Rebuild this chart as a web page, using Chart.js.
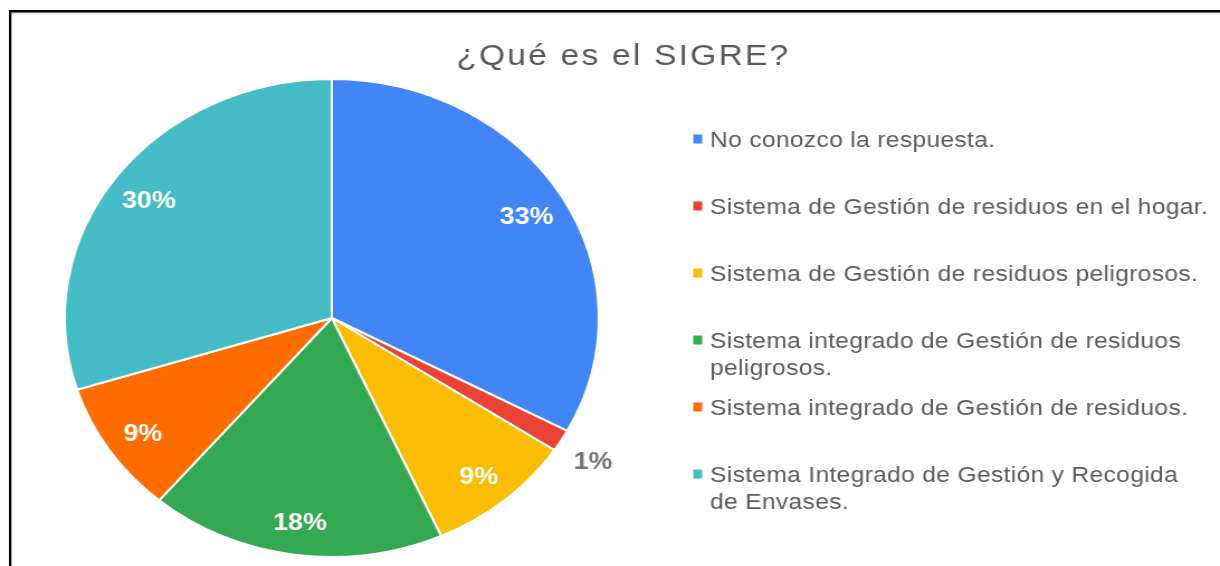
<!DOCTYPE html>
<html>
<head>
<meta charset="utf-8">
<script src="https://cdn.jsdelivr.net/npm/chart.js@4/dist/chart.umd.min.js"></script>
<style>
  html, body { margin: 0; padding: 0; background: #ffffff; overflow: hidden; }
  #wrap { position: absolute; left: 0; top: 0; width: 1092px; height: 566px;
          transform: scaleX(1.1172); transform-origin: 0 0; }
</style>
</head>
<body>
<div id="wrap"><canvas id="c"></canvas></div>
<script>
// ---- data ----
const chartTitle = '¿Qué es el SIGRE?';
const categories = [
  'No conozco la respuesta.',
  'Sistema de Gestión de residuos en el hogar.',
  'Sistema de Gestión de residuos peligrosos.',
  'Sistema integrado de Gestión de residuos\npeligrosos.',
  'Sistema integrado de Gestión de residuos.',
  'Sistema Integrado de Gestión y Recogida\nde Envases.'
];
const responses = [22, 1, 6, 12, 6, 20];
const sliceColors = ['#4285F4', '#EA4335', '#FBBC04', '#34A853', '#FF6D01', '#46BDC6'];

const FONT = '"Liberation Sans", Arial, Helvetica, sans-serif';

const framePlugin = {
  id: 'frame',
  beforeDraw(chart) {
    const ctx = chart.ctx;
    ctx.save();
    ctx.fillStyle = '#ffffff';
    ctx.fillRect(0, 0, chart.width, chart.height);
    ctx.fillStyle = '#e2e2e2';
    ctx.fillRect(8, 12.5, chart.width, 1.5);
    ctx.fillStyle = '#000000';
    ctx.fillRect(8, 10, 2.2, chart.height);
    ctx.fillRect(8, 10, chart.width, 2.5);
    ctx.restore();
  }
};

const titlePlugin = {
  id: 'sheetTitle',
  afterDraw(chart) {
    const ctx = chart.ctx;
    ctx.save();
    ctx.font = '30px ' + FONT;
    ctx.fillStyle = '#595959';
    ctx.textAlign = 'center';
    ctx.textBaseline = 'alphabetic';
    try { ctx.letterSpacing = '2px'; } catch (e) {}
    ctx.fillText(chartTitle, 558, 65);
    ctx.restore();
  }
};

const legendPlugin = {
  id: 'sideLegend',
  afterDraw(chart) {
    const ctx = chart.ctx;
    const ds = chart.data.datasets[0];
    ctx.save();
    ctx.font = '22px ' + FONT;
    ctx.textAlign = 'left';
    ctx.textBaseline = 'alphabetic';
    try { ctx.letterSpacing = '0.3px'; } catch (e) {}
    chart.data.labels.forEach((lab, i) => {
      const y0 = 139 + i * 67;
      ctx.fillStyle = ds.backgroundColor[i];
      ctx.fillRect(620.5, y0 - 4.5, 8, 9);
      ctx.fillStyle = '#5b5b5b';
      lab.split('\n').forEach((line, k) => {
        ctx.fillText(line, 635.5, y0 + 8 + k * 26.5);
      });
    });
    ctx.restore();
  }
};

const labelPlugin = {
  id: 'sliceLabels',
  afterDatasetsDraw(chart) {
    const ctx = chart.ctx;
    const meta = chart.getDatasetMeta(0);
    const vals = chart.data.datasets[0].data;
    const total = vals.reduce((a, b) => a + b, 0);
    ctx.save();
    ctx.font = 'bold 24px ' + FONT;
    ctx.textAlign = 'center';
    ctx.textBaseline = 'middle';
    meta.data.forEach((arc, i) => {
      const p = arc.getProps(['x', 'y', 'startAngle', 'endAngle', 'outerRadius'], true);
      const mid = (p.startAngle + p.endAngle) / 2;
      const frac = vals[i] / total;
      const outside = frac < 0.03;
      const r = p.outerRadius * (outside ? 1.14 : 0.85);
      ctx.fillStyle = outside ? '#757575' : '#ffffff';
      ctx.fillText(Math.round(frac * 100) + '%', p.x + Math.cos(mid) * r, p.y + Math.sin(mid) * r + 4);
    });
    ctx.restore();
  }
};

new Chart(document.getElementById('c'), {
  type: 'pie',
  data: {
    labels: categories,
    datasets: [{
      data: responses,
      backgroundColor: sliceColors,
      borderColor: '#ffffff',
      borderWidth: 2
    }]
  },
  options: {
    responsive: true,
    maintainAspectRatio: false,
    animation: false,
    layout: { padding: { top: 78, bottom: 8, left: 57, right: 555 } },
    plugins: {
      legend: { display: false },
      title: { display: false },
      tooltip: { enabled: false }
    }
  },
  plugins: [framePlugin, titlePlugin, legendPlugin, labelPlugin]
});
</script>
</body>
</html>
